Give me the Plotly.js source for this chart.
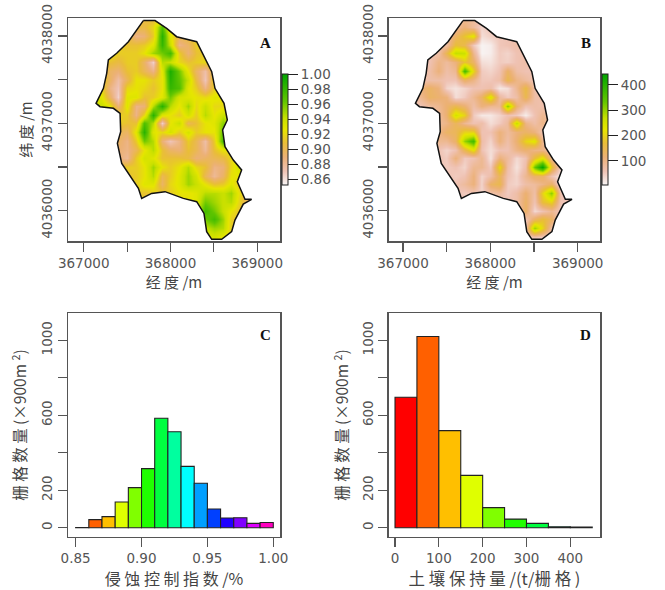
<!DOCTYPE html>
<html><head><meta charset="utf-8">
<script src="https://cdn.plot.ly/plotly-3.0.1.min.js"></script>
<style>html,body{margin:0;padding:0;background:#fff}</style></head>
<body><div id="chart" style="width:665px;height:590px"></div>
<script>
var gridX=[367100,367200,367300,367400,367500,367600,367700,367800,367900,368000,368100,368200,368300,368400,368500,368600,368700,368800,368900,369000];
var gridY=[4038200,4038100,4038000,4037900,4037800,4037700,4037600,4037500,4037400,4037300,4037200,4037100,4037000,4036900,4036800,4036700,4036600,4036500,4036400,4036300,4036200,4036100,4036000,4035900,4035800,4035700];
var controlIndex=[
[.915,.915,.915,.915,.915,.915,.905,.905,.915,.915,.915,.915,.915,.915,.915,.915,.915,.915,.915,.915],
[.915,.915,.915,.915,.905,.905,.905,.92,.97,.925,.915,.915,.915,.915,.915,.915,.915,.915,.915,.915],
[.915,.915,.915,.915,.905,.885,.89,.915,.985,.93,.90,.91,.915,.915,.915,.915,.915,.915,.915,.915],
[.915,.915,.915,.915,.91,.91,.915,.93,.98,.94,.885,.895,.915,.915,.915,.915,.915,.915,.915,.915],
[.915,.915,.925,.915,.915,.915,.925,.95,.96,.975,.915,.89,.91,.915,.915,.915,.915,.915,.915,.915],
[.915,.915,.91,.905,.915,.915,.895,.865,.945,.94,.92,.91,.915,.92,.915,.915,.915,.915,.915,.915],
[.915,.915,.895,.89,.91,.915,.90,.885,.93,.99,.96,.925,.895,.875,.915,.915,.915,.915,.915,.915],
[.915,.92,.895,.875,.90,.925,.925,.915,.925,.985,.965,.94,.905,.87,.92,.915,.915,.915,.915,.915],
[.915,.92,.885,.87,.92,.925,.92,.91,.925,.98,.97,.93,.915,.885,.915,.925,.915,.915,.915,.915],
[.93,.93,.895,.865,.93,.93,.91,.915,.93,.96,.935,.93,.925,.92,.93,.925,.915,.915,.915,.915],
[.94,.94,.925,.89,.93,.885,.89,.945,.985,.945,.925,.95,.92,.94,.92,.92,.915,.915,.915,.915],
[.92,.92,.915,.915,.915,.885,.92,.985,.93,.925,.915,.935,.915,.945,.925,.94,.93,.915,.915,.915],
[.915,.915,.915,.915,.91,.91,.97,.945,.865,.925,.94,.90,.91,.925,.93,.955,.94,.915,.915,.915],
[.915,.915,.91,.90,.895,.93,.985,.93,.92,.935,.915,.935,.915,.925,.925,.965,.94,.915,.915,.915],
[.915,.915,.905,.895,.885,.915,.96,.945,.89,.87,.885,.915,.90,.875,.915,.975,.93,.915,.915,.915],
[.915,.915,.905,.89,.885,.90,.925,.945,.91,.895,.89,.91,.90,.88,.91,.925,.92,.915,.915,.915],
[.915,.915,.905,.89,.88,.915,.935,.93,.91,.91,.91,.905,.89,.895,.90,.905,.92,.925,.915,.915],
[.915,.915,.915,.905,.915,.915,.925,.95,.925,.915,.925,.945,.92,.91,.885,.89,.92,.94,.915,.915],
[.915,.915,.915,.91,.91,.915,.925,.945,.90,.915,.93,.95,.935,.90,.88,.895,.925,.925,.915,.915],
[.915,.915,.915,.915,.915,.915,.93,.93,.895,.92,.93,.95,.94,.925,.91,.915,.93,.91,.905,.915],
[.915,.915,.915,.915,.915,.915,.91,.915,.915,.915,.925,.925,.93,.945,.945,.94,.95,.92,.90,.90],
[.915,.915,.915,.915,.915,.915,.915,.915,.915,.915,.92,.925,.93,.96,.95,.94,.945,.915,.89,.89],
[.915,.915,.915,.915,.915,.915,.915,.915,.915,.915,.915,.92,.935,.975,.96,.94,.925,.91,.90,.90],
[.915,.915,.915,.915,.915,.915,.915,.915,.915,.915,.915,.92,.935,.96,.975,.95,.915,.91,.915,.915],
[.915,.915,.915,.915,.915,.915,.915,.915,.915,.915,.915,.92,.93,.94,.95,.945,.915,.915,.915,.915],
[.915,.915,.915,.915,.915,.915,.915,.915,.915,.915,.915,.915,.92,.93,.935,.925,.915,.915,.915,.915]];
var soilRetention=[
[60,60,60,60,60,70,90,80,60,60,60,60,60,60,60,60,60,60,60,60],
[60,60,60,60,70,80,110,80,40,60,60,60,60,60,60,60,60,60,60,60],
[60,60,60,60,70,130,180,230,30,45,55,60,60,60,60,60,60,60,60,60],
[60,60,60,65,75,170,150,50,8,15,55,60,70,60,60,60,60,60,60,60],
[60,60,60,70,150,270,260,90,8,15,50,40,60,65,60,60,60,60,60,60],
[60,60,60,100,80,110,180,130,30,25,50,45,60,70,60,60,60,60,60,60],
[60,60,70,110,70,90,370,200,50,40,60,130,70,60,60,60,60,60,60,60],
[60,60,70,70,60,60,130,100,55,55,70,150,100,80,60,60,60,60,60,60],
[60,110,130,110,40,25,40,60,60,70,20,30,90,160,70,60,60,60,60,60],
[60,90,130,120,110,30,50,90,130,240,80,50,70,150,70,65,60,60,60,60],
[60,60,80,90,120,150,120,70,110,90,90,310,120,60,70,65,60,60,60,60],
[60,60,70,80,120,250,200,50,20,20,40,60,50,15,60,90,70,60,60,60],
[60,60,70,80,100,140,90,60,70,30,50,80,270,100,70,100,70,60,60,60],
[60,60,70,100,130,140,200,200,60,60,110,80,110,130,110,60,60,60,60,60],
[60,60,70,90,90,130,300,370,70,40,110,70,120,200,230,90,60,60,60,60],
[60,60,60,60,40,60,150,220,60,30,60,60,100,120,100,100,60,60,60,60],
[60,60,60,60,50,110,50,60,90,25,110,80,35,60,170,230,90,60,60,60],
[60,60,60,60,50,60,40,90,90,50,210,70,25,70,330,440,180,40,60,60],
[60,60,60,60,60,50,60,110,40,70,140,60,40,90,130,130,60,20,30,60],
[60,60,60,60,60,60,80,110,40,130,150,50,40,70,80,100,130,20,30,60],
[60,60,60,60,60,60,50,60,40,70,80,50,70,120,70,200,310,60,60,60],
[60,60,60,60,60,60,60,60,60,60,60,60,70,130,60,170,200,60,60,60],
[60,60,60,60,60,60,60,60,60,60,60,60,60,130,35,60,90,50,60,60],
[60,60,60,60,60,60,60,60,60,60,60,60,60,60,130,170,130,50,60,60],
[60,60,60,60,60,60,60,60,60,60,60,60,60,60,300,200,70,60,60,60],
[60,60,60,60,60,60,60,60,60,60,60,60,60,60,60,50,60,60,60,60]];
var boundaryX=[367687,367822,367956,368071,368302,368379,368475,368513,368617,368655,368601,368628,368724,368820,368770,368859,368935,368839,368743,368705,368590,368475,368417,368386,368302,368148,367937,367783,367668,367630,367515,367438,367388,367426,367419,367342,367188,367142,367227,367265,367284,367380,367515,367611,367687];
var boundaryY=[4038176,4038176,4038088,4037992,4037935,4037782,4037592,4037401,4037229,4037038,4036924,4036733,4036580,4036466,4036332,4036130,4036130,4036076,4035893,4035760,4035672,4035672,4035760,4035969,4036103,4036141,4036218,4036198,4036141,4036256,4036427,4036542,4036771,4036905,4037115,4037172,4037191,4037229,4037401,4037573,4037725,4037802,4037935,4038069,4038176];

var histCX=[.855,.865,.875,.885,.895,.905,.915,.925,.935,.945,.955,.965,.975,.985,.995];
var histCY=[1,43,59,137,214,315,584,512,327,237,100,52,53,23,28];
var histCColors=["#FF0000","#FF6000","#FFBF00","#DFFF00","#80FF00","#20FF00","#00FF40","#00FF9F","#00FFFF","#009FFF","#0040FF","#2000FF","#8000FF","#DF00FF","#FF00BF"];
var histDX=[25,75,125,175,225,275,325,375,425];
var histDY=[696,1020,518,279,107,46,23,5,4];
var histDColors=["#FF0000","#FF6000","#FFBF00","#DFFF00","#80FF00","#20FF00","#00FF40","#00FF9F","#00FFFF"];

var mapXTicks=[367000,368000,369000];
var mapXMinor=[367500,368500];
var mapXLabels=["367000","368000","369000"];
var mapYTicks=[4036000,4037000,4038000];
var mapYMinor=[4036500,4037500];
var mapYLabels=["4036000","4037000","4038000"];
var countTicks=[0,200,600,1000];
var countMinor=[400,800];
var countLabels=["0","200","600","1000"];
var cTicks=[.85,.90,.95,1.00];
var cLabels=["0.85","0.90","0.95","1.00"];
var dTicks=[0,100,200,300,400];
var dLabels=["0","100","200","300","400"];
var barATicks=[.86,.88,.90,.92,.94,.96,.98,1.00];
var barALabels=["0.86","0.88","0.90","0.92","0.94","0.96","0.98","1.00"];
var barBTicks=[100,200,300,400];
var barBLabels=["100","200","300","400"];

var terrain=[[0,"#F8F6F6"],[.125,"#EFC2B3"],[.25,"#ECB176"],[.375,"#E9BD3A"],[.5,"#E6E600"],[.6,"#C8E000"],[.75,"#63C600"],[1,"#00A600"]];
var W=665,H=590;
function px(x){return x/W} function py(y){return 1-y/H}
var tickFont={family:"DejaVu Sans",size:13.5,color:"#555"};
var cjk="'Noto Sans CJK SC',sans-serif";

function ax(domain,range,vals,labels,minor,extra){
  var o={domain:domain,range:range,tickmode:"array",tickvals:vals,ticktext:labels,ticks:"outside",ticklen:9,tickwidth:1.2,tickcolor:"#555",
    showline:true,mirror:true,linecolor:"#555",linewidth:1.5,showgrid:false,zeroline:false,tickfont:tickFont,fixedrange:true};
  if(minor){o.minor={tickmode:"array",tickvals:minor,ticks:"outside",ticklen:9,tickwidth:1.2,tickcolor:"#555",showgrid:false};}
  return Object.assign(o,extra||{});
}
function title(t,s,sz){return {text:t,font:{family:cjk,size:sz||15,color:"#444"},standoff:s}}

function maskPoly(xr,yr){
  var xs=[xr[0],xr[1],xr[1],xr[0],xr[0]],ys=[yr[0],yr[0],yr[1],yr[1],yr[0]];
  return {x:xs.concat(boundaryX.slice(),[xr[0]]),y:ys.concat(boundaryY.slice(),[yr[0]])};
}
var yAsc=gridY.slice().reverse();
function mapTraces(z,zmin,zmax,xa,ya,xr,yr,cbX,tv,tt){
  var m=maskPoly(xr,yr);
  return [
   {type:"heatmap",x:gridX,y:yAsc,z:z.slice().reverse(),zsmooth:"best",zmin:zmin,zmax:zmax,colorscale:terrain,xaxis:xa,yaxis:ya,hoverinfo:"skip",
    colorbar:{x:px(cbX),xanchor:"left",y:py(74),yanchor:"top",lenmode:"pixels",len:111,thickness:5.5,thicknessmode:"pixels",xpad:0,ypad:0,
      outlinecolor:"#222",outlinewidth:1,borderwidth:0,tickmode:"array",tickvals:tv,ticktext:tt,ticks:"outside",ticklen:10,tickwidth:1,tickcolor:"#222",tickfont:tickFont}},
   {type:"scatter",mode:"lines",x:m.x,y:m.y,fill:"toself",fillcolor:"#fff",line:{width:0,color:"rgba(0,0,0,0)"},xaxis:xa,yaxis:ya,hoverinfo:"skip",showlegend:false},
   {type:"scatter",mode:"lines",x:boundaryX,y:boundaryY,line:{color:"#111",width:1.5},xaxis:xa,yaxis:ya,hoverinfo:"skip",showlegend:false}
  ];
}
var xrA=[366819,369262],xrB=[366836,369259],yrM=[4035653,4038206];
var data=[].concat(
  mapTraces(controlIndex,.853,1.0,"x","y",xrA,yrM,282,barATicks,barALabels),
  mapTraces(soilRetention,5,443,"x2","y2",xrB,yrM,602,barBTicks,barBLabels),
  [{type:"bar",x:histCX,y:histCY,width:.01,marker:{color:histCColors,line:{color:"#222",width:1.1}},xaxis:"x3",yaxis:"y3",showlegend:false},
   {type:"bar",x:histDX,y:histDY,width:50,marker:{color:histDColors,line:{color:"#222",width:1.1}},xaxis:"x4",yaxis:"y4",showlegend:false}]
);
var domXL=[px(68),px(280)],domXR=[px(388.7),px(600.3)];
var domYT=[py(241),py(18)],domYB=[py(536.7),py(313.3)];
var layout={width:W,height:H,margin:{l:0,r:0,t:0,b:0},paper_bgcolor:"#fff",plot_bgcolor:"#fff",showlegend:false,bargap:0,
 xaxis:ax(domXL,xrA,mapXTicks,mapXLabels,mapXMinor,{anchor:"y",title:title("经 度 /m",3)}),
 yaxis:ax(domYT,yrM,mapYTicks,mapYLabels,mapYMinor,{anchor:"x",tickangle:-90,title:title("纬 度 /m",3)}),
 xaxis2:ax(domXR,xrB,mapXTicks,mapXLabels,mapXMinor,{anchor:"y2",title:title("经 度 /m",3)}),
 yaxis2:ax(domYT,yrM,mapYTicks,mapYLabels,mapYMinor,{anchor:"x2",tickangle:-90}),
 xaxis3:ax(domXL,[.8442,1.0051],cTicks,cLabels,null,{anchor:"y3",title:title("侵 蚀 控 制 指 数 /%",3,16)}),
 yaxis3:ax(domYB,[-48,1144],countTicks,countLabels,countMinor,{anchor:"x3",tickangle:-90,title:title("栅 格 数 量 (×900m <sup>2</sup>)",8,15.5)}),
 xaxis4:ax(domXR,[-14.4,468.4],dTicks,dLabels,null,{anchor:"y4",title:title("土 壤 保 持 量 /(t/栅 格 )",3,16.5)}),
 yaxis4:ax(domYB,[-48,1144],countTicks,countLabels,countMinor,{anchor:"x4",tickangle:-90,title:title("栅 格 数 量 (×900m <sup>2</sup>)",7,15.5)}),
 annotations:[["A",265,43],["B",585.7,43],["C",265,335],["D",585.7,335]].map(function(a){
  return {text:"<b>"+a[0]+"</b>",xref:"paper",yref:"paper",x:px(a[1]),y:py(a[2]),xanchor:"center",yanchor:"middle",showarrow:false,font:{family:"Liberation Serif",size:15,color:"#111"}};
 })
};
Plotly.newPlot("chart",data,layout,{displayModeBar:false,staticPlot:true});
</script></body></html>
